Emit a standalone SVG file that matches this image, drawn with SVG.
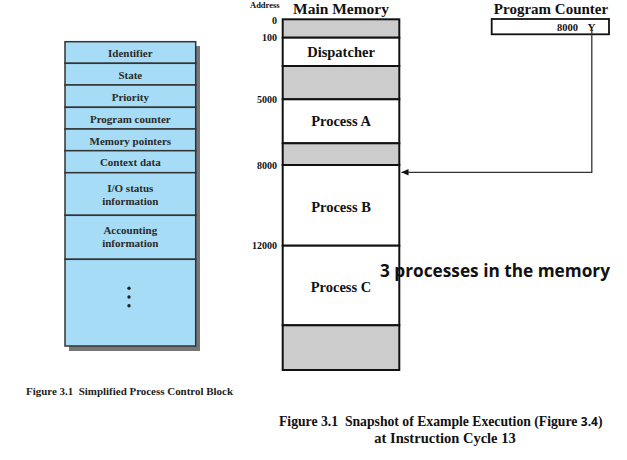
<svg xmlns="http://www.w3.org/2000/svg" width="627" height="460" viewBox="0 0 627 460">
<style>
.serif{font-family:"Liberation Serif","Times New Roman",serif;font-weight:bold;}
.pcbt{font-family:"Liberation Serif","Times New Roman",serif;font-weight:bold;font-size:11px;fill:#2a2a2a;text-anchor:middle;}
.mt{font-family:"Liberation Serif","Times New Roman",serif;font-weight:bold;font-size:14.5px;fill:#111;text-anchor:middle;}
.addr{font-family:"Liberation Serif","Times New Roman",serif;font-weight:bold;font-size:10px;fill:#111;text-anchor:end;}
.row{fill:#a6dcf5;stroke:#333;stroke-width:1.5;}
.free{fill:#cccccc;stroke:#111;stroke-width:2;}
.used{fill:#ffffff;stroke:#111;stroke-width:2;}
.conn{fill:none;stroke:#333;stroke-width:1.3;}
</style>
<defs>
<marker id="arr" markerWidth="8" markerHeight="8" refX="7" refY="4" orient="auto" markerUnits="userSpaceOnUse">
<path d="M0,0.8 L7,4 L0,7.2 Z" fill="#111"/>
</marker>
</defs>
<rect width="627" height="460" fill="#ffffff"/>

<g id="pcb">
<rect x="69" y="46" width="131" height="305" fill="#777"/>
<rect class="row" x="65" y="41.7" width="130.7" height="21.6"/>
<rect class="row" x="65" y="63.3" width="130.7" height="21.7"/>
<rect class="row" x="65" y="85" width="130.7" height="22.3"/>
<rect class="row" x="65" y="107.3" width="130.7" height="21.7"/>
<rect class="row" x="65" y="129" width="130.7" height="21.7"/>
<rect class="row" x="65" y="150.7" width="130.7" height="22"/>
<rect class="row" x="65" y="172.7" width="130.7" height="42.6"/>
<rect class="row" x="65" y="215.3" width="130.7" height="44"/>
<rect class="row" x="65" y="259.3" width="130.7" height="86.7"/>
<text class="pcbt" x="130.3" y="56.5">Identifier</text>
<text class="pcbt" x="130.3" y="78.5">State</text>
<text class="pcbt" x="130.3" y="100.5">Priority</text>
<text class="pcbt" x="130.3" y="122.5">Program counter</text>
<text class="pcbt" x="130.3" y="144.5">Memory pointers</text>
<text class="pcbt" x="130.3" y="166">Context data</text>
<text class="pcbt" x="130.3" y="192">I/O status</text>
<text class="pcbt" x="130.3" y="205">information</text>
<text class="pcbt" x="130.3" y="234">Accounting</text>
<text class="pcbt" x="130.3" y="247">information</text>
<circle cx="129" cy="288.3" r="1.7" fill="#222"/>
<circle cx="129" cy="297" r="1.7" fill="#222"/>
<circle cx="129" cy="305.8" r="1.7" fill="#222"/>
</g>

<g id="memory">
<text class="serif" x="250" y="8" font-size="8.5" fill="#111">Address</text>
<text class="serif" x="341" y="13.5" font-size="15.5" fill="#111" text-anchor="middle">Main Memory</text>
<rect class="free" x="282.7" y="19.3" width="116.6" height="18.4"/>
<rect class="used" x="282.7" y="37.7" width="116.6" height="28.3"/>
<rect class="free" x="282.7" y="66" width="116.6" height="33.3"/>
<rect class="used" x="282.7" y="99.3" width="116.6" height="44"/>
<rect class="free" x="282.7" y="143.3" width="116.6" height="21.7"/>
<rect class="used" x="282.7" y="165" width="116.6" height="80.7"/>
<rect class="used" x="282.7" y="245.7" width="116.6" height="79.6"/>
<rect class="free" x="282.7" y="325.3" width="116.6" height="44.7"/>
<text class="mt" x="341" y="57">Dispatcher</text>
<text class="mt" x="341" y="126">Process A</text>
<text class="mt" x="341" y="211.5">Process B</text>
<text class="mt" x="341" y="292">Process C</text>
<text class="addr" x="277" y="23.5">0</text>
<text class="addr" x="277" y="40.5">100</text>
<text class="addr" x="277" y="103">5000</text>
<text class="addr" x="277" y="168.5">8000</text>
<text class="addr" x="277" y="249">12000</text>
</g>

<g id="program-counter">
<text class="serif" x="551" y="14" font-size="15" fill="#111" text-anchor="middle">Program Counter</text>
<rect x="491.7" y="19" width="117.3" height="15.3" fill="#fff" stroke="#111" stroke-width="1.8"/>
<text class="serif" x="578" y="30.5" font-size="10.5" fill="#111" text-anchor="end">8000</text>
<text class="serif" x="591.5" y="31" font-size="11" fill="#111" text-anchor="middle">Y</text>
</g>

<g id="connectors">
<path class="conn" d="M591.8,30 L591.8,172.3 L401.5,172.3" marker-end="url(#arr)"/>
</g>

<g id="labels">
<text x="380" y="277" font-family="'Open Sans','Noto Sans',sans-serif" font-weight="bold" font-size="17" fill="#111" textLength="230" lengthAdjust="spacingAndGlyphs">3 processes in the memory</text>
<text class="serif" x="26" y="395" font-size="11" fill="#222" textLength="207" lengthAdjust="spacingAndGlyphs" xml:space="preserve">Figure 3.1  Simplified Process Control Block</text>
<text class="serif" x="279" y="426" font-size="13.7" fill="#111" xml:space="preserve">Figure 3.1  Snapshot of Example Execution (Figure <tspan font-family="'Open Sans','Noto Sans',sans-serif" font-size="12">3.4</tspan>)</text>
<text class="serif" x="445" y="443" font-size="14.5" fill="#111" text-anchor="middle">at Instruction Cycle 13</text>
</g>
</svg>
